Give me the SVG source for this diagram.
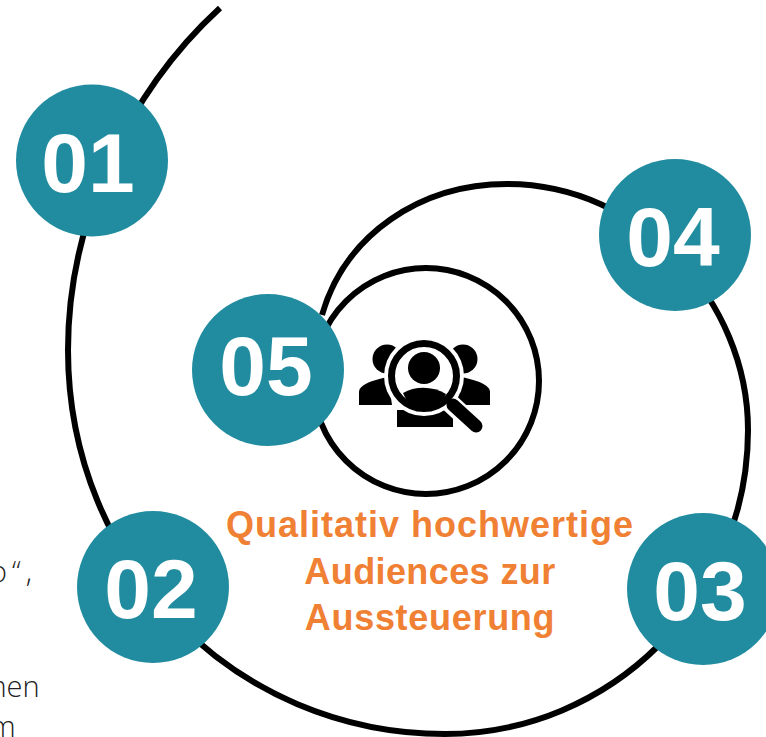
<svg xmlns="http://www.w3.org/2000/svg" width="766" height="737" viewBox="0 0 766 737">
<style>
.c{fill:none;stroke:#000;stroke-width:6}
.n{fill:#218ca0}
.t{font-family:"Liberation Sans",Arial,sans-serif;font-weight:700;font-size:84px;fill:#fff;text-anchor:middle}
.o{font-family:"Liberation Sans",Arial,sans-serif;font-weight:700;font-size:36px;fill:#f08033;text-anchor:middle}
.g{font-family:"Open Sans","Liberation Sans",sans-serif;font-weight:300;font-size:29px;fill:#222}
</style>
<rect width="766" height="737" fill="#fff"/>
<g id="connectors">
<path class="c" d="M220 8C125 95 68 225 68 350C68 565 235 734 445 734C610 734 748 600 748 430C748 300 640 184 507 184C420 184 345 235 322 315"/>
<circle class="c" cx="426" cy="381" r="113"/>
</g>
<g id="node-01"><circle class="n" cx="92" cy="160.500" r="76"/><text class="t" x="88" y="192">01</text></g>
<g id="node-02"><circle class="n" cx="153" cy="587" r="76"/><text class="t" x="151" y="618">02</text></g>
<g id="node-03"><circle class="n" cx="703" cy="589" r="76"/><text class="t" x="700" y="620">03</text></g>
<g id="node-04"><circle class="n" cx="675" cy="235" r="76"/><text class="t" x="673" y="266">04</text></g>
<g id="node-05"><circle class="n" cx="268" cy="370" r="76"/><text class="t" x="266" y="395">05</text></g>
<g id="icon">
<circle cx="387" cy="359" r="14.500"/><circle cx="463" cy="359" r="14.500"/>
<path d="M359 405V392C359 385 372 380 388 377L392 405Z"/>
<path d="M490 405V392C490 385 477 380 461 377L457 405Z"/>
<path d="M397 427V410H453V427Z"/>
<circle cx="424" cy="376" r="40" fill="#fff"/>
<circle cx="424" cy="376" r="32.500" fill="#fff" stroke="#000" stroke-width="7"/>
<circle cx="424" cy="368" r="16"/>
<path d="M403 393C415 386 433 386 446 394C442 404 432 409 424 409C416 409 407 404 403 393Z"/>
<path d="M450 403L476 427" stroke="#fff" stroke-width="19" fill="none"/>
<path d="M453 405L476 426" stroke="#000" stroke-width="13" stroke-linecap="round" fill="none"/>
</g>
<g id="label">
<text class="o" x="430" y="537" letter-spacing="1">Qualitativ hochwertige</text>
<text class="o" x="430" y="584" letter-spacing=".4">Audiences zur</text>
<text class="o" x="430" y="630" letter-spacing=".7">Aussteuerung</text>
</g>
<g id="cut-text">
<text class="g" x="-10" y="582" letter-spacing="5">o“,</text>
<text class="g" x="-19" y="697">men</text>
<text class="g" x="-10" y="737">m</text>
</g>
</svg>
